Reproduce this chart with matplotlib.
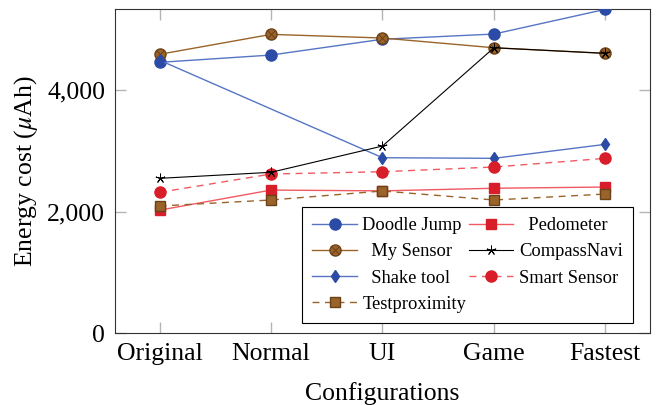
import numpy as np
import matplotlib.pyplot as plt
from matplotlib.ticker import FuncFormatter
from matplotlib.legend_handler import HandlerTuple

plt.rcParams['font.family'] = ['Liberation Serif', 'DejaVu Serif']
plt.rcParams['mathtext.fontset'] = 'stix'

configs = ["Original", "Normal", "UI", "Game", "Fastest"]

doodle_jump = [4455, 4575, 4835, 4920, 5327]
pedometer = [2025, 2355, 2342, 2385, 2405]
my_sensor = [4587, 4915, 4855, 4695, 4603]
compass_navi = [2548, 2647, 3079, 4695, 4603]
shake_tool = [4490, np.nan, 2887, 2877, 3107]
smart_sensor = [2318, 2619, 2657, 2734, 2877]
testproximity = [2093, 2192, 2340, 2192, 2290]

blue = "#2b4ba6"
blue_line = "#5675c4"
red = "#d81e28"
red_line = "#f05a62"
brown = "#9a6329"
brown_edge = "#6b4217"

fig = plt.figure(figsize=(6.56, 4.05), dpi=100)
ax = fig.add_axes([0.1753, 0.177, 0.8155, 0.80])
x = np.arange(len(configs))

def valid(vals):
    v = np.array(vals, dtype=float)
    m = ~np.isnan(v)
    return x[m], v[m]

dash = (0, (5, 4))
h_dj, = ax.plot(*valid(doodle_jump), color=blue_line, lw=1, marker='o', ms=8,
                mfc=blue, mec=blue, zorder=3)
h_pe, = ax.plot(*valid(pedometer), color=red_line, lw=1, marker='s', ms=7.5,
                mfc=red, mec=red, zorder=3)
h_ms, = ax.plot(*valid(my_sensor), color=brown, lw=1, marker='o', ms=8,
                mfc=brown, mec=brown_edge, zorder=3)
h_msx, = ax.plot(*valid(my_sensor), ls='none', marker='x', ms=5.4, mew=0.7,
                 mec=brown_edge, zorder=3)
h_cn, = ax.plot(*valid(compass_navi), color='black', lw=0.8, marker=(5, 2, 0),
                ms=7, mew=0.7, mec='black', zorder=4)
h_st, = ax.plot(*valid(shake_tool), color=blue_line, lw=1, marker='d', ms=6,
                mfc=blue, mec=blue, zorder=3)
h_ss, = ax.plot(*valid(smart_sensor), color=red_line, lw=1, ls=dash,
                marker='o', ms=8, mfc=red, mec=red, zorder=3)
h_tp, = ax.plot(*valid(testproximity), color=brown, lw=1, ls=dash,
                marker='s', ms=7.5, mfc=brown, mec=brown_edge, zorder=3)

ax.set_xlim(-0.4, 4.4)
ax.set_ylim(0, 5327)
ax.set_xticks(x)
ax.set_xticklabels(configs)
ax.set_yticks([0, 2000, 4000])
ax.yaxis.set_major_formatter(FuncFormatter(lambda v, p: f"{int(v):,}"))
ax.tick_params(direction='in', length=8, color='#b5b5b5', width=1,
               top=True, right=True, labelsize=18.5)
ax.tick_params(axis='y', pad=7)
ax.tick_params(axis='x', pad=7)
for s in ax.spines.values():
    s.set_linewidth(0.8)
    s.set_color('#333333')

ax.set_xlabel("Configurations", fontsize=18.5, labelpad=12)
ax.set_ylabel(r"Energy cost ($\mu$Ah)", fontsize=18.5, labelpad=5)

# column-major order so rows read like the original legend
handles = [h_dj, (h_ms, h_msx), h_st, h_tp, h_pe, h_cn, h_ss]
labels = ["Doodle Jump", "  My Sensor  ", "  Shake tool  ", "Testproximity",
          "  Pedometer  ", "CompassNavi", "Smart Sensor"]
leg = ax.legend(handles, labels, ncol=2, loc='lower right',
                bbox_to_anchor=(0.968, 0.032), fontsize=13.3, frameon=True,
                fancybox=False, edgecolor='black', framealpha=1,
                handlelength=2.4, columnspacing=0.15, handletextpad=0.3,
                labelspacing=0.5, borderpad=0.55, borderaxespad=0,
                handler_map={tuple: HandlerTuple(ndivide=1)})
leg.get_frame().set_linewidth(0.8)

fig.savefig("out.png", dpi=100)
